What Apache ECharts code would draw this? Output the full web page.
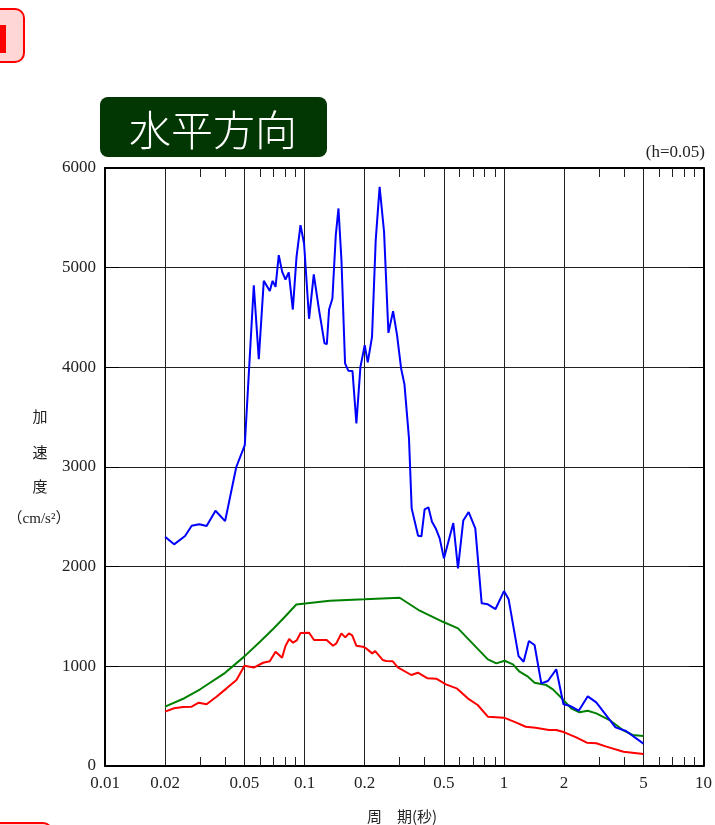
<!DOCTYPE html>
<html>
<head>
<meta charset="utf-8">
<script src="https://cdn.jsdelivr.net/npm/echarts@6/dist/echarts.min.js"></script>
<style>
html,body{margin:0;padding:0;background:#fff;}
#chart{width:715px;height:825px;}
</style>
</head>
<body>
<div id="chart"></div>
<script>
// ---- data ----
const bluePeriods = [0.02,0.0222,0.0252,0.0272,0.0297,0.0323,0.0358,0.040,0.0455,0.0502,0.0557,0.059,0.0625,0.067,0.0692,0.0716,0.0743,0.0773,0.0803,0.0834,0.0874,0.0912,0.0955,0.0995,0.1054,0.1113,0.1183,0.126,0.1294,0.1328,0.138,0.1435,0.148,0.1532,0.1597,0.166,0.174,0.182,0.1907,0.2004,0.2075,0.218,0.2275,0.238,0.2505,0.2634,0.278,0.291,0.305,0.317,0.334,0.3445,0.371,0.3855,0.400,0.418,0.4355,0.455,0.476,0.500,0.557,0.588,0.625,0.665,0.718,0.773,0.830,0.907,1.0,1.055,1.183,1.254,1.333,1.423,1.538,1.66,1.828,1.986,2.13,2.37,2.63,2.90,3.62,4.09,5.0];
const blueValues = [2300,2224,2307,2410,2425,2408,2561,2457,3000,3220,4824,4082,4868,4767,4868,4808,5125,4958,4881,4952,4580,5108,5426,5243,4487,4932,4574,4240,4233,4580,4690,5326,5594,5075,4039,3965,3962,3437,4005,4223,4049,4306,5276,5811,5359,4346,4564,4323,3989,3829,3287,2585,2310,2304,2575,2595,2451,2384,2284,2083,2437,1983,2464,2548,2384,1632,1622,1575,1755,1672,1103,1046,1254,1214,829,853,970,619,605,555,699,639,388,351,224];

const greenPeriods = [0.02,0.025,0.03,0.04,0.05,0.06,0.07,0.08,0.091,0.134,0.2,0.3,0.378,0.494,0.588,0.83,0.915,1.007,1.109,1.197,1.318,1.423,1.63,1.758,1.97,2.17,2.39,2.63,2.9,3.38,3.94,4.42,5.0];
const greenValues = [595,680,770,935,1100,1250,1380,1500,1620,1658,1672,1688,1558,1447,1381,1070,1030,1056,1020,946,896,836,812,769,669,579,539,555,528,461,361,311,301];

const redPeriods = [0.02,0.0222,0.0246,0.0272,0.0295,0.0323,0.0362,0.0407,0.0456,0.05,0.0557,0.062,0.067,0.0716,0.0772,0.0803,0.0838,0.0876,0.0914,0.0955,0.1054,0.1116,0.1291,0.139,0.1445,0.153,0.1601,0.167,0.1735,0.1818,0.196,0.204,0.2184,0.2262,0.247,0.2566,0.277,0.2935,0.343,0.37,0.414,0.4575,0.5115,0.5787,0.658,0.738,0.83,1.0,1.145,1.285,1.44,1.68,1.828,2.01,2.30,2.60,2.90,3.26,3.97,5.0];
const redValues = [545,579,592,595,635,619,695,779,863,1005,988,1036,1050,1146,1086,1204,1274,1237,1260,1334,1337,1264,1264,1207,1231,1331,1291,1331,1311,1207,1197,1180,1130,1153,1063,1053,1050,990,913,936,880,876,819,779,679,612,495,485,438,394,384,361,361,338,288,234,228,194,143,120];

const xMajorTicks = [0.01,0.02,0.05,0.1,0.2,0.5,1,2,5,10];
const xMajorLabels = ['0.01','0.02','0.05','0.1','0.2','0.5','1','2','5','10'];
const xMinorTicks = [0.03,0.04,0.06,0.07,0.08,0.09,0.3,0.4,0.6,0.7,0.8,0.9,3,4,6,7,8,9];

const titleText = '水平方向';
const dampingText = '(h=0.05)';
const yNameChars = ['加','速','度','（cm/s²）'];
const xNameText = '周　期(秒)';

// ---- chart ----
function pairs(xs, ys){ return xs.map((x,i)=>[x, ys[i]]); }
function majorLabel(v){
  let best = 0, bd = Infinity;
  xMajorTicks.forEach((t,i)=>{ const d = Math.abs(Math.log10(t) - Math.log10(v)); if (d < bd){bd=d;best=i;} });
  return xMajorLabels[best];
}
const serif = 'Liberation Serif, Noto Sans CJK JP, serif';

const chart = echarts.init(document.getElementById('chart'), null, {renderer:'canvas'});
const option = {
  animation: false,
  backgroundColor: '#fff',
  grid: {left:105, right:11, top:168, bottom:59, containLabel:false},
  xAxis: [
    { type:'log', logBase:10, min:0.01, max:10, position:'bottom',
      axisLine:{show:true, lineStyle:{color:'#000', width:2}},
      axisTick:{show:false, customValues: xMajorTicks},
      axisLabel:{show:true, customValues: xMajorTicks, formatter: majorLabel, color:'#222', fontFamily: serif, fontSize:17, margin:9},
      splitLine:{show:true, lineStyle:{color:'#222', width:1}},
      minorTick:{show:false}, minorSplitLine:{show:false}
    },
    { type:'log', logBase:10, min:0.01, max:10, position:'bottom',
      axisLine:{show:false},
      axisTick:{show:true, inside:true, length:9, customValues: xMinorTicks, lineStyle:{color:'#222', width:1}},
      axisLabel:{show:false},
      splitLine:{show:false}
    },
    { type:'log', logBase:10, min:0.01, max:10, position:'top',
      axisLine:{show:true, lineStyle:{color:'#000', width:2}},
      axisTick:{show:true, inside:true, length:9, customValues: xMinorTicks, lineStyle:{color:'#222', width:1}},
      axisLabel:{show:false},
      splitLine:{show:false}
    }
  ],
  yAxis: [
    { type:'value', min:0, max:6000, interval:1000, position:'left',
      axisLine:{show:true, lineStyle:{color:'#000', width:2}},
      axisTick:{show:true, inside:true, length:14, lineStyle:{color:'#000', width:1}},
      axisLabel:{color:'#222', fontFamily: serif, fontSize:17, margin:9, formatter: v => String(v)},
      splitLine:{show:true, lineStyle:{color:'#222', width:1}}
    },
    { type:'value', min:0, max:6000, interval:1000, position:'right',
      axisLine:{show:true, lineStyle:{color:'#000', width:2}},
      axisTick:{show:true, inside:true, length:14, lineStyle:{color:'#000', width:1}},
      axisLabel:{show:false},
      splitLine:{show:false}
    }
  ],
  series: [
    { type:'line', name:'red', data: pairs(redPeriods, redValues), showSymbol:false, symbol:'none',
      lineStyle:{color:'#ff0000', width:2}, z:3 },
    { type:'line', name:'green', data: pairs(greenPeriods, greenValues), showSymbol:false, symbol:'none',
      lineStyle:{color:'#008000', width:2}, z:4 },
    { type:'line', name:'blue', data: pairs(bluePeriods, blueValues), showSymbol:false, symbol:'none',
      lineStyle:{color:'#0000ff', width:2}, z:5 }
  ],
  graphic: [
    { type:'rect', shape:{x:-20, y:9, width:44, height:53, r:9}, style:{fill:'#ffd6d6', stroke:'#ff0000', lineWidth:2} },
    { type:'rect', shape:{x:0, y:25, width:6, height:28}, style:{fill:'#ff0000'} },
    { type:'rect', shape:{x:-20, y:823, width:72, height:30, r:9}, style:{fill:'#ffd6d6', stroke:'#ff0000', lineWidth:2} },
    { type:'rect', shape:{x:100, y:97, width:227, height:60, r:8}, style:{fill:'#023602'} },
    { type:'text', x:213, y:130, style:{text:titleText, fill:'#fff', font:'300 42px "Noto Sans CJK JP", sans-serif', textAlign:'center', textVerticalAlign:'middle'} },
    { type:'text', x:705, y:153, style:{text:dampingText, fill:'#222', font:'17px "Liberation Serif", serif', textAlign:'right', textVerticalAlign:'middle'} },
    { type:'text', x:40, y:416, style:{text:yNameChars[0], fill:'#222', font:'15px "Noto Sans CJK JP", sans-serif', textAlign:'center', textVerticalAlign:'middle'} },
    { type:'text', x:40, y:452, style:{text:yNameChars[1], fill:'#222', font:'15px "Noto Sans CJK JP", sans-serif', textAlign:'center', textVerticalAlign:'middle'} },
    { type:'text', x:40, y:486, style:{text:yNameChars[2], fill:'#222', font:'15px "Noto Sans CJK JP", sans-serif', textAlign:'center', textVerticalAlign:'middle'} },
    { type:'text', x:39, y:519, style:{text:yNameChars[3], fill:'#222', font:'15px "Liberation Serif", "Noto Sans CJK JP", serif', textAlign:'center', textVerticalAlign:'middle'} },
    { type:'text', x:402, y:816, style:{text:xNameText, fill:'#222', font:'15px "Noto Sans CJK JP", sans-serif', textAlign:'center', textVerticalAlign:'middle'} }
  ]
};
chart.setOption(option);
</script>
</body>
</html>
